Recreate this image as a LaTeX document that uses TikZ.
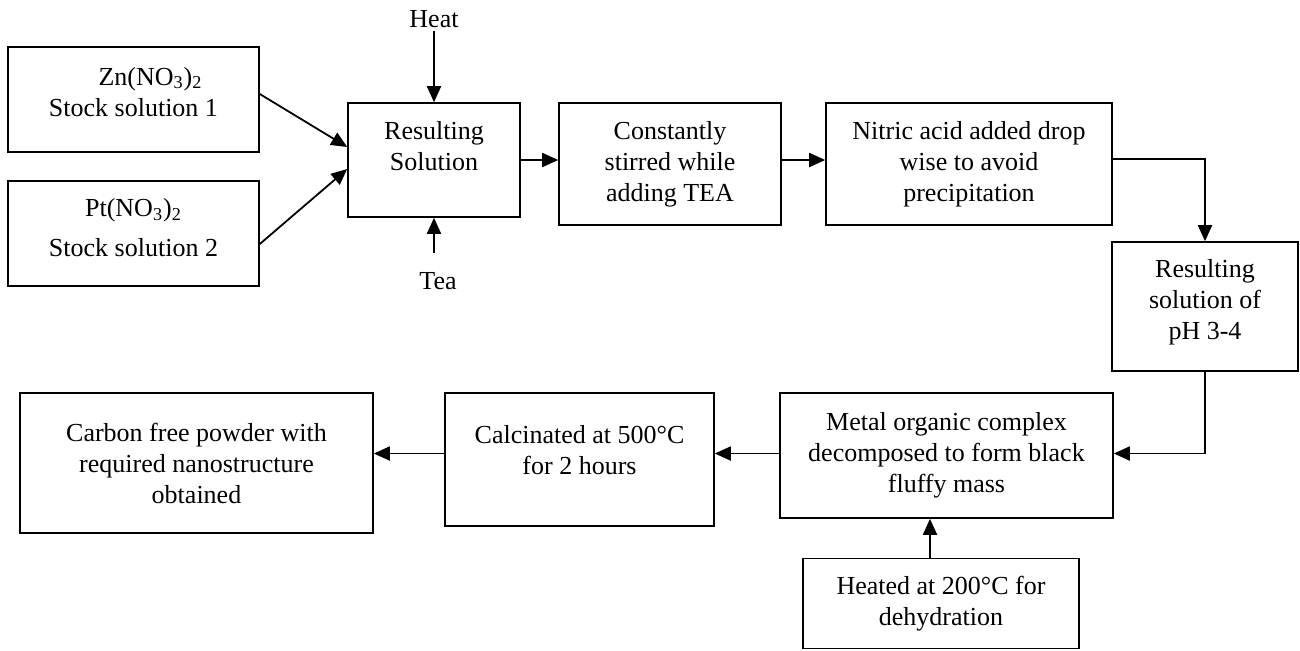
\documentclass[tikz,border=0pt]{standalone}
\usepackage{fontspec}
\setmainfont{Liberation Serif}
\usetikzlibrary{arrows.meta}

\begin{document}
\begin{tikzpicture}[x=0.5pt,y=-0.5pt,
  every node/.style={font=\fontsize{13}{15.5}\selectfont},
  stage/.style={draw,line width=0.8pt,align=center,inner sep=0pt},
  flow/.style={line width=0.9pt,-{Triangle[length=8pt,width=7pt]}},
  lift/.style={text depth=#1}]
\useasboundingbox (0,0) rectangle (1300,650);
% top row
\node[stage,minimum width=125.5pt,minimum height=52.5pt,lift=8pt] (zn) at (133.5,99.5) {\hspace*{17pt}Zn(NO\textsubscript{3})\textsubscript{2}\\Stock solution 1};
\node[stage,minimum width=125.5pt,minimum height=52.5pt,lift=6pt] (pt) at (133.5,233.5) {Pt(NO\textsubscript{3})\textsubscript{2}\\[4.5pt]Stock solution 2};
\node[stage,minimum width=86pt,minimum height=57pt,lift=14pt] (res) at (434,160) {Resulting\\Solution};
\node[stage,minimum width=111pt,minimum height=61pt] (stir) at (670,164) {Constantly\\stirred while\\adding TEA};
\node[stage,minimum width=143pt,minimum height=61pt] (nitric) at (969,164) {Nitric acid added drop\\wise to avoid\\precipitation};
\node[stage,minimum width=93pt,minimum height=64.5pt,lift=7pt] (ph) at (1205,306.5) {Resulting\\solution of\\pH 3-4};
% bottom row
\node[stage,minimum width=166.5pt,minimum height=62.5pt] (metal) at (946.5,455.5) {Metal organic complex\\decomposed to form black\\fluffy mass};
\node[stage,minimum width=138pt,minimum height=45pt] (heated) at (941,603.5) {Heated at 200°C for\\dehydration};
\node[stage,minimum width=134.5pt,minimum height=66.5pt,lift=10pt] (calc) at (579.5,459.5) {Calcinated at 500°C\\for 2 hours};
\node[stage,minimum width=176.5pt,minimum height=70pt] (carbon) at (196.5,463) {Carbon free powder with\\required nanostructure\\obtained};
% inputs
\node[inner sep=1.5pt] (heat) at (434,19) {Heat};
\node[inner sep=1.5pt] (tea) at (438,281) {Tea};

\draw[flow] ([yshift=2.75pt]zn.east) -- ([yshift=6.5pt]res.west);
\draw[flow] ([yshift=-5.25pt]pt.east) -- ([yshift=-4.5pt]res.west);
\draw[flow] (heat.south) -- (res.north);
\draw[flow,shorten <=8pt] (res.south |- tea.north) -- (res.south);
\draw[flow] (res.east) -- (res.east -| stir.west);
\draw[flow] (res.east -| stir.east) -- (res.east -| nitric.west);
\draw[flow] ([yshift=2.5pt]nitric.east) -| (ph.north);
\draw[flow] (ph.south) |- ([yshift=1pt]metal.east);
\draw[flow] ([yshift=1pt]metal.west) -- ([yshift=1pt]metal.west -| calc.east);
\draw[flow] ([yshift=1pt]metal.west -| calc.west) -- ([yshift=1pt]metal.west -| carbon.east);
\draw[flow] ([xshift=-5.5pt]heated.north) -- ([xshift=-5.5pt]heated.north |- metal.south);
\end{tikzpicture}
\end{document}
